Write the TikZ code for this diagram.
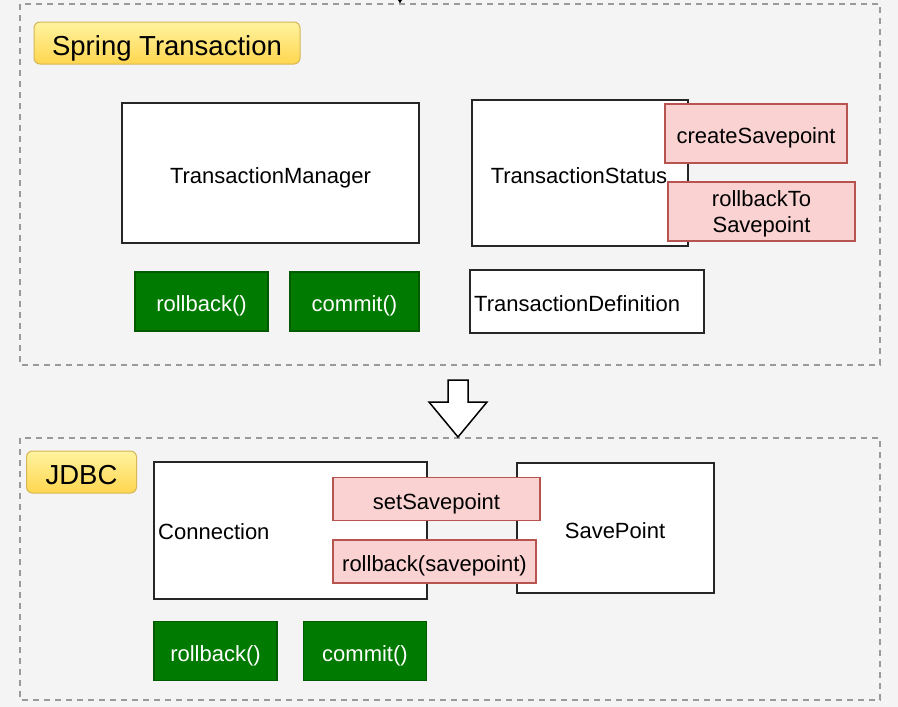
\documentclass[tikz,border=0pt]{standalone}
\usepackage{fontspec}
\setmainfont{Liberation Sans}
\usetikzlibrary{shadings,arrows.meta}
\definecolor{bg}{HTML}{F4F4F4}
\definecolor{dashgray}{HTML}{9A9A9A}
\definecolor{pinkfill}{HTML}{FAD2D2}
\definecolor{pinkdraw}{HTML}{B85450}
\definecolor{greenfill}{HTML}{007A00}
\definecolor{greendraw}{HTML}{005A00}
\definecolor{yellowtop}{HTML}{FFF3A0}
\definecolor{yellowbot}{HTML}{FFD64F}
\definecolor{yellowdraw}{HTML}{D6B656}
\tikzset{
  txt/.style={font=\fontsize{22}{26}\selectfont, text height=20pt, text depth=0pt},
  region/.style={draw=dashgray, line width=1.3pt, dash pattern=on 6pt off 5pt},
  whitebox/.style={draw=black!85, line width=1.5pt, fill=white, inner sep=0pt, txt},
  pinkbox/.style={draw=pinkdraw, line width=1.2pt, fill=pinkfill, inner sep=0pt, txt},
  greenbox/.style={draw=greendraw, line width=1.2pt, fill=greenfill, inner sep=0pt, text=white, txt},
  titlebox/.style={draw=yellowdraw, line width=1pt, rounded corners=6pt, top color=yellowtop, bottom color=yellowbot, inner sep=0pt, font=\fontsize{27.5}{32}\selectfont, text height=25pt, text depth=0pt},
}
\begin{document}
\begin{tikzpicture}[x=1pt,y=-1pt]
\useasboundingbox[fill=bg] (0,0) rectangle (898,707);
% small arrow tip at top (cut off)
\coordinate (topin) at (400,-12);
\coordinate (topout) at (400,4);
\draw[-{Latex[length=6pt,width=7pt]}, line width=1pt] (topin) -- (topout);
% regions
\draw[region] (20,4) rectangle (880,365);
\draw[region] (20,438) rectangle (880,700);
% titles
\node[titlebox, minimum width=266pt, minimum height=42pt] (spring) at (167,43) {Spring Transaction};
\node[titlebox, minimum width=110pt, minimum height=42pt] (jdbc) at (81.5,472) {JDBC};
% top region
\node[whitebox, minimum width=297pt, minimum height=140pt] (tm) at (270.5,173) {TransactionManager};
\node[whitebox, minimum width=216pt, minimum height=146pt] (ts) at (580,173) {};
\node[txt, inner sep=0pt] (tstext) at (579,173) {TransactionStatus};
\node[pinkbox, minimum width=182pt, minimum height=59pt] (cs) at (756,133.5) {createSavepoint};
\node[pinkbox, minimum width=187pt, minimum height=59pt] (rts) at (761.5,211.5) {};
\node[font=\fontsize{22}{26}\selectfont, align=center, inner sep=0pt] (rtstext) at (761.5,214) {rollbackTo\\Savepoint};
\node[whitebox, minimum width=234pt, minimum height=63pt] (td) at (587,301.5) {};
\node[anchor=west, inner sep=0pt, txt] (tdtext) at (474,301.5) {TransactionDefinition};
\node[greenbox, minimum width=133pt, minimum height=59pt] (rb1) at (201.5,301.5) {rollback()};
\node[greenbox, minimum width=129pt, minimum height=59pt] (cm1) at (354.5,301.5) {commit()};
% big arrow
\draw[line width=1.5pt, fill=white] (448,380) -- (468,380) -- (468,402) -- (487,402) -- (458,437) -- (429,402) -- (448,402) -- cycle;
% bottom region
\node[whitebox, minimum width=273pt, minimum height=137pt] (conn) at (290.5,530.5) {};
\node[anchor=west, inner sep=0pt, txt] (conntext) at (158,529) {Connection};
\node[whitebox, minimum width=197pt, minimum height=130pt] (sp) at (615.5,528) {};
\node[txt, inner sep=0pt] (sptext) at (615,528) {SavePoint};
\node[pinkbox, minimum width=207pt, minimum height=43pt] (ssp) at (436.5,499) {setSavepoint};
\node[pinkbox, minimum width=203pt, minimum height=43pt] (rbsp) at (434.5,561.5) {rollback(savepoint)};
\node[greenbox, minimum width=123pt, minimum height=59pt] (rb2) at (215.5,651) {rollback()};
\node[greenbox, minimum width=123pt, minimum height=59pt] (cm2) at (365,651) {commit()};
\end{tikzpicture}
\end{document}
